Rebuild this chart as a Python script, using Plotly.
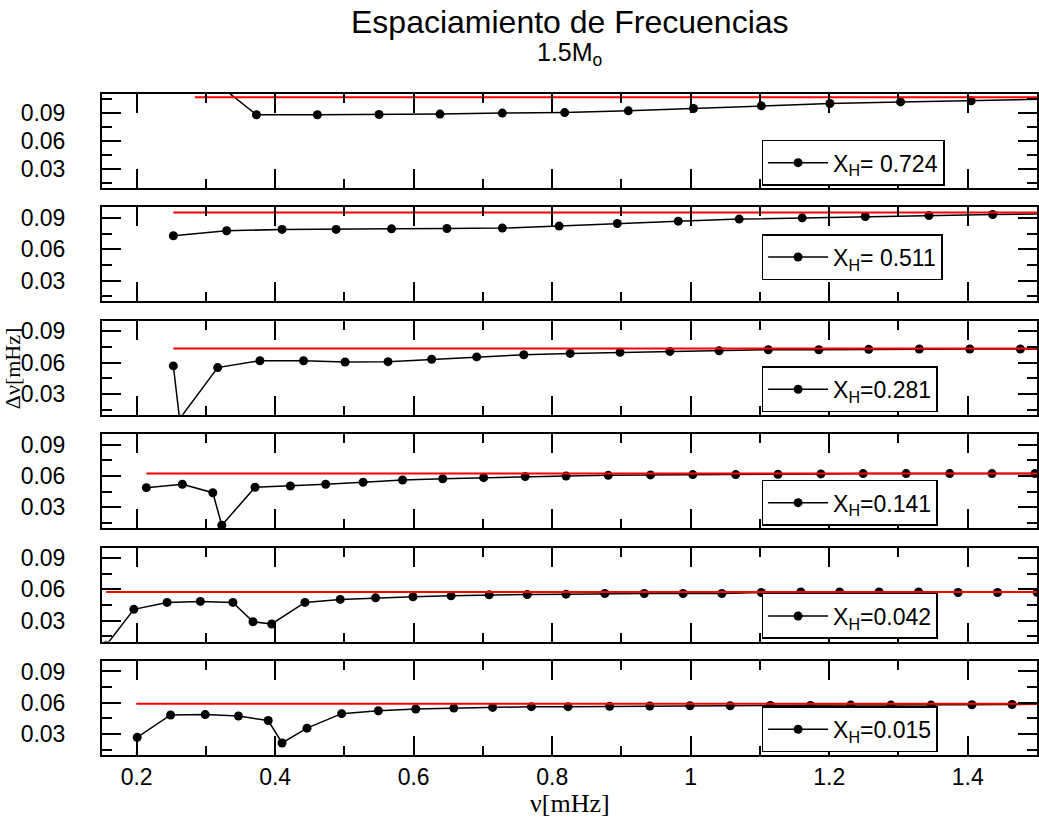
import plotly.graph_objects as go

# ---------------- data ----------------
labels = ["X<sub>H</sub>= 0.724", "X<sub>H</sub>= 0.511", "X<sub>H</sub>=0.281",
          "X<sub>H</sub>=0.141", "X<sub>H</sub>=0.042", "X<sub>H</sub>=0.015"]

x1 = [0.284, 0.373, 0.461, 0.550, 0.638, 0.728, 0.818, 0.910, 1.004, 1.102, 1.201, 1.303, 1.405, 1.508]
y1 = [0.140, 0.0879, 0.0879, 0.0882, 0.0886, 0.0897, 0.0902, 0.0921, 0.0946, 0.0974, 0.0999, 0.1016, 0.1027, 0.1045]

x2 = [0.253, 0.330, 0.410, 0.488, 0.568, 0.648, 0.728, 0.810, 0.894, 0.982, 1.070, 1.161, 1.252, 1.344, 1.436, 1.530]
y2 = [0.0729, 0.0776, 0.0789, 0.0789, 0.0795, 0.0798, 0.0802, 0.0821, 0.0846, 0.0868, 0.0888, 0.0900, 0.0913, 0.0922, 0.0932, 0.0940]

x3 = [0.253, 0.262, 0.317, 0.378, 0.441, 0.501, 0.563, 0.626, 0.691, 0.759, 0.826, 0.898, 0.970, 1.041, 1.112, 1.185, 1.257, 1.330, 1.403, 1.476, 1.550]
y3 = [0.0568, 0.006, 0.0552, 0.0618, 0.0618, 0.0606, 0.0609, 0.0632, 0.0654, 0.0675, 0.0688, 0.0698, 0.0707, 0.0713, 0.0723, 0.0723, 0.0727, 0.0730, 0.0730, 0.0730, 0.0732]

x4 = [0.214, 0.266, 0.310, 0.323, 0.371, 0.422, 0.473, 0.527, 0.584, 0.642, 0.701, 0.761, 0.820, 0.881, 0.942, 1.003, 1.065, 1.126, 1.188, 1.249, 1.311, 1.374, 1.435, 1.497]
y4 = [0.0488, 0.0521, 0.0440, 0.0128, 0.0492, 0.0504, 0.0521, 0.0540, 0.0562, 0.0574, 0.0584, 0.0594, 0.0600, 0.0606, 0.0610, 0.0613, 0.0613, 0.0616, 0.0620, 0.0623, 0.0623, 0.0623, 0.0623, 0.0623]

x5 = [0.156, 0.196, 0.244, 0.292, 0.339, 0.368, 0.395, 0.443, 0.494, 0.545, 0.599, 0.654, 0.709, 0.764, 0.820, 0.876, 0.933, 0.989, 1.045, 1.102, 1.159, 1.215, 1.272, 1.329, 1.386, 1.443, 1.500]
y5 = [0.0065, 0.0409, 0.0475, 0.0485, 0.0475, 0.0290, 0.0269, 0.0475, 0.0504, 0.0519, 0.0529, 0.0538, 0.0548, 0.0551, 0.0554, 0.0561, 0.0561, 0.0561, 0.0561, 0.0570, 0.0576, 0.0576, 0.0576, 0.0576, 0.0570, 0.0570, 0.0572]

x6 = [0.1995, 0.2008, 0.249, 0.299, 0.347, 0.390, 0.410, 0.446, 0.496, 0.549, 0.603, 0.658, 0.714, 0.770, 0.823, 0.883, 0.941, 0.999, 1.057, 1.115, 1.173, 1.231, 1.289, 1.347, 1.406, 1.464, 1.522]
y6 = [0.002, 0.0269, 0.0483, 0.0487, 0.0473, 0.0430, 0.0215, 0.0357, 0.0496, 0.0524, 0.0540, 0.0549, 0.0556, 0.0563, 0.0563, 0.0566, 0.0569, 0.0572, 0.0572, 0.0575, 0.0575, 0.0578, 0.0578, 0.0578, 0.0581, 0.0584, 0.0586]

ref_level = [0.1066, 0.0950, 0.0735, 0.0623, 0.0575, 0.0591]
ref_end = 1.6

xs = [x1, x2, x3, x4, x5, x6]
ys = [y1, y2, y3, y4, y5, y6]
y_ranges = [[0.01, 0.11], [0.01, 0.10], [0.01, 0.10], [0.01, 0.10], [0.01, 0.10], [0.01, 0.10]]
legend_bottom = [0.8613, 0.7186, 0.5185, 0.3469, 0.1755, 0.0041]

# ---------------- figure ----------------
W, H = 1039, 820
ML, MR, MT, MB = 102, 0, 94, 65
FONT = "Liberation Sans, Arial, Helvetica, sans-serif"
SERIF = "Liberation Serif, Times New Roman, serif"

fig = go.Figure()
n = 6
h = 0.1422
step = (1 - h) / 5

for i in range(n):
    ax = "" if i == 0 else str(i + 1)
    leg = "legend" if i == 0 else f"legend{i + 1}"
    fig.add_trace(go.Scatter(
        x=xs[i], y=ys[i], mode="lines+markers",
        line=dict(color="black", width=1.5),
        marker=dict(color="black", size=9),
        name=labels[i], xaxis="x" + ax, yaxis="y" + ax, legend=leg, showlegend=True,
    ))
    fig.add_trace(go.Scatter(
        x=[xs[i][0], ref_end], y=[ref_level[i], ref_level[i]], mode="lines",
        line=dict(color="#ff0000", width=2),
        xaxis="x" + ax, yaxis="y" + ax, showlegend=False, hoverinfo="skip",
    ))

layout = dict(
    width=W, height=H,
    margin=dict(l=ML, r=MR, t=MT, b=MB),
    paper_bgcolor="white", plot_bgcolor="white",
    font=dict(family=FONT, color="black", size=23),
)

for i in range(n):
    key = "" if i == 0 else str(i + 1)
    top = 1 - i * step
    bottom = max(0.0, top - h)
    layout["xaxis" + key] = dict(
        domain=[0, 1], range=[0.15, 1.5], anchor="y" + key,
        matches=None if i == 0 else "x",
        showgrid=False, zeroline=False,
        showline=True, linecolor="black", linewidth=2, mirror="ticks",
        ticks="inside", ticklen=19, tickwidth=1.5, tickcolor="black",
        tick0=0, dtick=0.2,
        minor=dict(ticks="inside", ticklen=9, tickwidth=1.5, tickcolor="black", dtick=0.1, showgrid=False),
        showticklabels=(i == n - 1),
        tickfont=dict(size=23, family=FONT),
    )
    layout["yaxis" + key] = dict(
        domain=[bottom, top], range=y_ranges[i], anchor="x" + key,
        showgrid=False, zeroline=False,
        showline=True, linecolor="black", linewidth=2, mirror="ticks",
        ticks="inside", ticklen=19, tickwidth=1.5, tickcolor="black",
        tick0=0, dtick=0.03, tickformat=".2f",
        minor=dict(ticks="inside", ticklen=10, tickwidth=1.5, tickcolor="black", dtick=0.015, showgrid=False),
        tickfont=dict(size=23, family=FONT),
        ticklabelstandoff=30,
    )
    lname = "legend" if i == 0 else f"legend{i + 1}"
    layout[lname] = dict(
        x=(763 - ML) / (W - ML - MR), xanchor="left",
        y=legend_bottom[i], yanchor="bottom",
        bgcolor="white", bordercolor="black", borderwidth=1.5,
        font=dict(size=23, family=FONT, color="black"),
        itemwidth=60,
    )

fig.update_layout(**layout)

annotations = [
    dict(text="Espaciamiento de Frecuencias", x=0.5, y=(755 - 22) / 661, xref="paper", yref="paper",
         showarrow=False, font=dict(size=32, family=FONT), xanchor="center", yanchor="middle"),
    dict(text="1.5M<sub>o</sub>", x=0.5, y=(755 - 54) / 661, xref="paper", yref="paper",
         showarrow=False, font=dict(size=25, family=FONT), xanchor="center", yanchor="middle"),
    dict(text="ν[mHz]", x=0.5, y=(755 - 803) / 661, xref="paper", yref="paper",
         showarrow=False, font=dict(size=26, family=SERIF), xanchor="center", yanchor="middle"),
    dict(text="Δν[mHz]", x=(12 - ML) / (W - ML - MR), y=(755 - 368) / 661, xref="paper", yref="paper",
         showarrow=False, font=dict(size=22, family=SERIF), textangle=-90, xanchor="center", yanchor="middle"),
]
fig.update_layout(annotations=annotations)

fig.write_html("out.html")
